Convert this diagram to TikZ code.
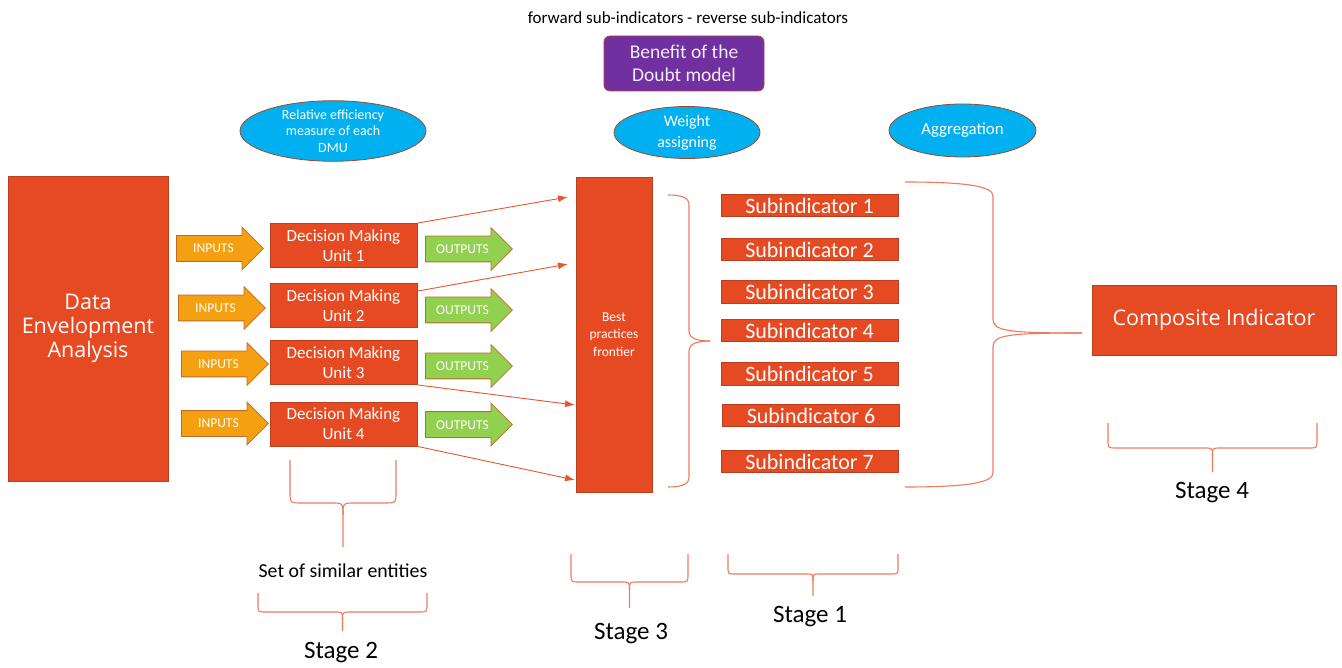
\documentclass[tikz,border=0pt]{standalone}
\usepackage{fontspec}
\setmainfont{Carlito}
\newfontfamily\opensans{Open Sans}
\usetikzlibrary{shapes.geometric,shapes.arrows,arrows.meta}

\definecolor{dmured}{HTML}{E64A22}
\definecolor{dmuedge}{HTML}{B8401E}
\definecolor{bodpurple}{HTML}{7030A0}
\definecolor{bodedge}{HTML}{A8404A}
\definecolor{ellblue}{HTML}{00B0F0}
\definecolor{elledge}{HTML}{9A4A2A}
\definecolor{inorange}{HTML}{F4A010}
\definecolor{outgreen}{HTML}{92D050}
\definecolor{arrowedge}{HTML}{C06A2A}
\definecolor{linkred}{HTML}{E8552E}
\definecolor{bracered}{HTML}{EE7A5C}

% brace opening upwards: left x, right x, top y, bar y, tip y, radius
\newcommand{\hbrace}[6]{%
	\draw[stagebrace] (#1,#3) -- (#1,{#4-#6}) .. controls (#1,#4) .. ({#1+#6},#4) -- ({(#1+#2)/2-#6},#4) .. controls ({(#1+#2)/2},#4) .. ({(#1+#2)/2},{#4+#6}) -- ({(#1+#2)/2},#5);
	\draw[stagebrace] (#2,#3) -- (#2,{#4-#6}) .. controls (#2,#4) .. ({#2-#6},#4) -- ({(#1+#2)/2+#6},#4) .. controls ({(#1+#2)/2},#4) .. ({(#1+#2)/2},{#4+#6});
}
% brace opening to the left: left x, bar x, tip x, top y, tip y, bottom y, radius
\newcommand{\vbrace}[7]{%
	\draw[stagebrace] (#1,#4) .. controls ({#2-(#2-#1)*0.3},#4) and (#2,{#4+#7*0.3}) .. (#2,{#4+#7}) -- (#2,{#5-#7}) .. controls (#2,{#5-2}) and ({#2+#7},#5) .. (#3,#5);
	\draw[stagebrace] (#1,#6) .. controls ({#2-(#2-#1)*0.3},#6) and (#2,{#6-#7*0.3}) .. (#2,{#6-#7}) -- (#2,{#5+#7}) .. controls (#2,{#5+2}) and ({#2+#7},#5) .. (#3,#5);
}

\begin{document}
\begin{tikzpicture}[x=1pt,y=-1pt,
		box/.style={draw=dmuedge, line width=0.8pt, fill=dmured, text=white, align=center, inner sep=0pt},
		oval/.style={ellipse, draw=elledge, line width=0.8pt, fill=ellblue, text=white, align=center, inner sep=0pt},
		blockarrow/.style={single arrow, draw=arrowedge, line width=0.8pt, text=white, anchor=tail,
			single arrow head extend=8.5pt, minimum height=87pt, text height=9pt, text depth=0pt,
			inner ysep=8pt, inner xsep=4pt, font=\fontsize{13.5}{14}\selectfont},
		inarrow/.style={blockarrow, fill=inorange},
		outarrow/.style={blockarrow, fill=outgreen},
		link/.style={linkred, line width=0.9pt, -{Latex[length=10pt,width=7pt]}},
		stagebrace/.style={bracered, line width=1.1pt},
		stagelabel/.style={font=\fontsize{25}{27}\selectfont}]
	\useasboundingbox (0,0) rectangle (1342,668);
	%
	\node (title) at (688,18) {\fontsize{17}{19}\selectfont forward sub-indicators - reverse sub-indicators};
	\node[draw=bodedge, line width=0.8pt, fill=bodpurple, rounded corners=6pt, text=white!92!bodpurple,
		align=center, minimum width=160pt, minimum height=55pt, inner sep=0pt,
		font=\fontsize{19.5}{23}\selectfont] (bod) at (684,63.5) {Benefit of the\\Doubt model};
	%
	\node[oval, minimum width=186pt, minimum height=52pt, font=\fontsize{14}{16.5}\selectfont] (relative) at (333,131) {Relative efficiency\\measure of each\\DMU};
	\node[oval, minimum width=146pt, minimum height=52pt, font=\fontsize{16}{21}\selectfont] (weight) at (687,132.5) {Weight\\assigning};
	\node[oval, minimum width=147pt, minimum height=53pt, font=\fontsize{16.8}{19}\selectfont] (aggregation) at (962.5,130.5) {Aggregation};
	%
	\node[box, minimum width=160pt, minimum height=305pt, font=\opensans\fontsize{21.5}{24}\selectfont] (dea) at (88,328.5) {Data\\Envelopment\\Analysis};
	%
	\foreach \i/\xin/\y in {1/176/248.5, 2/178/308, 3/181/364, 4/181/423.5} {
		\node[inarrow] (in\i) at (\xin,\y) {INPUTS};
	}
	\foreach \i/\y in {1/245.5, 2/305.5, 3/362.5, 4/424} {
		\node[box, minimum width=147pt, minimum height=44pt, font=\fontsize{17}{20}\selectfont] (dmu\i) at (343.5,\y) {Decision Making\\Unit \i};
	}
	\foreach \i/\y in {1/249, 2/310, 3/366, 4/424.5} {
		\node[outarrow] (out\i) at (425,\y) {OUTPUTS};
	}
	%
	\node[box, minimum width=76pt, minimum height=315pt, font=\fontsize{13.5}{17.5}\selectfont] (frontier) at (614,334.5) {Best\\practices\\frontier};
	\coordinate (f1) at (568,197);
	\coordinate (f2) at (568,264);
	\coordinate (f3) at (575,405);
	\coordinate (f4) at (575,480);
	\draw[link] (dmu1.north east) -- (f1);
	\draw[link] ([yshift=-8pt]dmu2.north east) -- (f2);
	\draw[link] (dmu3.south east) -- (f3);
	\draw[link] (dmu4.south east) -- (f4);
	%
	\foreach \i/\x/\y in {1/809.5/205.5, 2/809.5/249.5, 3/809.5/292, 4/809.5/330.5, 5/809.5/374, 6/811/415.5, 7/809.5/461.5} {
		\node[box, minimum width=177pt, minimum height=22.5pt, font=\fontsize{22}{22}\selectfont] (sub\i) at (\x,\y) {Subindicator \i};
	}
	%
	\node[box, minimum width=244pt, minimum height=70pt, font=\opensans\fontsize{21.5}{24}\selectfont] (composite) at (1214,320) {Composite Indicator};
	%
	\vbrace{668}{689}{710}{195}{341}{487}{10}
	\vbrace{905}{993}{1082}{182}{333}{487}{14}
	%
	\hbrace{290}{396}{460}{503}{547}{12}
	\node[font=\fontsize{19.8}{22}\selectfont] (similar) at (343,571) {Set of similar entities};
	\hbrace{258}{427}{593}{612}{631}{8}
	\node[stagelabel] (stage2) at (341,653) {Stage 2};
	\hbrace{571}{688}{554}{582}{608}{8}
	\node[stagelabel] (stage3) at (631,634) {Stage 3};
	\hbrace{728}{898}{554}{574}{596}{7}
	\node[stagelabel] (stage1) at (810,617) {Stage 1};
	\hbrace{1108}{1317}{423}{448}{472}{8}
	\node[stagelabel] (stage4) at (1212,493) {Stage 4};
\end{tikzpicture}
\end{document}
